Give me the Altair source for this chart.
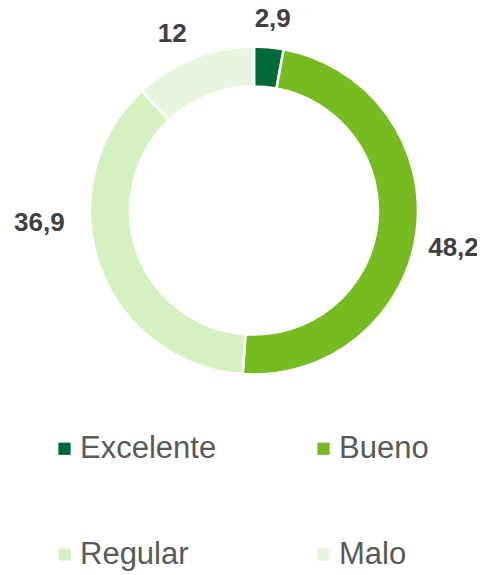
import altair as alt
import pandas as pd

categories = ["Excelente", "Bueno", "Regular", "Malo"]
values = [2.9, 48.2, 36.9, 12]
labels = ["2,9", "48,2", "36,9", "12"]
colors = ["#00693C", "#76BC21", "#D5F0C1", "#E8F6DF"]

df = pd.DataFrame({
    "cat": categories,
    "value": values,
    "label": labels,
    "idx": list(range(len(categories))),
})

CX, CY = 246, 202.5
FONT = "Liberation Sans"
color_scale = alt.Scale(domain=categories, range=colors)

arc = alt.Chart(df).mark_arc(
    innerRadius=124, outerRadius=164, stroke="white", strokeWidth=2.5
).encode(
    theta=alt.Theta("value:Q", stack=True),
    order=alt.Order("idx:Q"),
    color=alt.Color(
        "cat:N",
        scale=color_scale,
        sort=categories,
        legend=alt.Legend(
            orient="none",
            direction="horizontal",
            legendX=41,
            legendY=425,
            columns=2,
            title=None,
            symbolType="square",
            symbolSize=150,
            symbolStrokeWidth=0,
            labelFontSize=31,
            labelFont=FONT,
            labelColor="#595959",
            labelLimit=0,
            labelOffset=0,
            columnPadding=91,
            rowPadding=74,
        ),
    ),
    x=alt.value(CX),
    y=alt.value(CY),
)

base = (
    alt.Chart(df)
    .transform_joinaggregate(total="sum(value)")
    .transform_window(cum="sum(value)", sort=[alt.SortField("idx")], frame=[None, 0])
    .transform_calculate(ang="(datum.cum - datum.value/2) / datum.total * 2 * PI")
)

offsets = {
    "Excelente": (1, 3),
    "Bueno": (6, 13),
    "Regular": (-31, -53),
    "Malo": (-10, 5),
}

layers = [arc]
for cat, (dx, dy) in offsets.items():
    layers.append(
        base.transform_filter(alt.datum.cat == cat)
        .mark_text(dx=dx, dy=dy, fontSize=26, fontWeight="bold", color="#404040", font=FONT)
        .encode(
            theta=alt.Theta("ang:Q", scale=None, stack=False),
            radius=alt.value(195),
            text="label:N",
            x=alt.value(CX),
            y=alt.value(CY),
        )
    )

chart = (
    alt.layer(*layers)
    .properties(width=469, height=566, autosize="none", padding=0)
    .configure_view(stroke=None)
)

chart.save("out.html", embed_options={"renderer": "svg", "actions": False})
